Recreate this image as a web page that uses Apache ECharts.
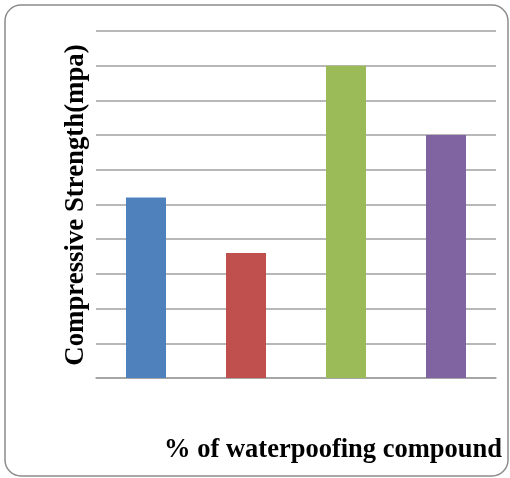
<!DOCTYPE html>
<html>
<head>
<meta charset="utf-8">
<script src="https://cdn.jsdelivr.net/npm/echarts@6/dist/echarts.min.js"></script>
<style>
  html, body { margin: 0; padding: 0; background: #ffffff; }
  #chart { width: 510px; height: 478px; }
</style>
</head>
<body>
<div id="chart"></div>
<script>
// Mix proportions (unlabelled categories) and compressive strength values
const categories = ['0%', '1%', '2%', '3%'];
const strengths = [5.2, 3.6, 9.0, 7.0];
const barColors = ['#4f81bd', '#c0504d', '#9bbb59', '#8064a2'];
const yTitle = 'Compressive Strength(mpa)';
const xTitle = '% of waterpoofing compound';

const chart = echarts.init(document.getElementById('chart'), null, { renderer: 'canvas' });

chart.setOption({
  animation: false,
  backgroundColor: '#ffffff',
  grid: { left: 96, right: 14, top: 31, bottom: 100, containLabel: false },
  xAxis: {
    type: 'category',
    data: categories,
    axisLine: { show: true, lineStyle: { color: '#a0a0a0', width: 1.5 } },
    axisTick: { show: false },
    axisLabel: { show: false }
  },
  yAxis: {
    type: 'value',
    min: 0,
    max: 10,
    interval: 1,
    axisLine: { show: false },
    axisTick: { show: false },
    axisLabel: { show: false },
    splitLine: { show: true, lineStyle: { color: '#a0a0a0', width: 1.5 } }
  },
  series: [{
    type: 'bar',
    barWidth: '40%',
    data: strengths.map((v, i) => ({ value: v, itemStyle: { color: barColors[i] } }))
  }],
  graphic: [
    {
      type: 'rect',
      shape: { x: 5, y: 5, width: 503, height: 471, r: 16 },
      style: { fill: 'none', stroke: '#8c8c8c', lineWidth: 1.5 },
      z: 10
    },
    {
      type: 'text',
      x: 76,
      y: 205,
      rotation: Math.PI / 2,
      style: {
        text: yTitle,
        font: 'bold 26.8px "Liberation Serif", "Times New Roman", serif',
        fill: '#000000',
        align: 'center',
        verticalAlign: 'middle'
      }
    },
    {
      type: 'text',
      x: 502,
      y: 450,
      style: {
        text: xTitle,
        font: 'bold 26.5px "Liberation Serif", "Times New Roman", serif',
        fill: '#000000',
        align: 'right',
        verticalAlign: 'middle'
      }
    }
  ]
});
</script>
</body>
</html>
